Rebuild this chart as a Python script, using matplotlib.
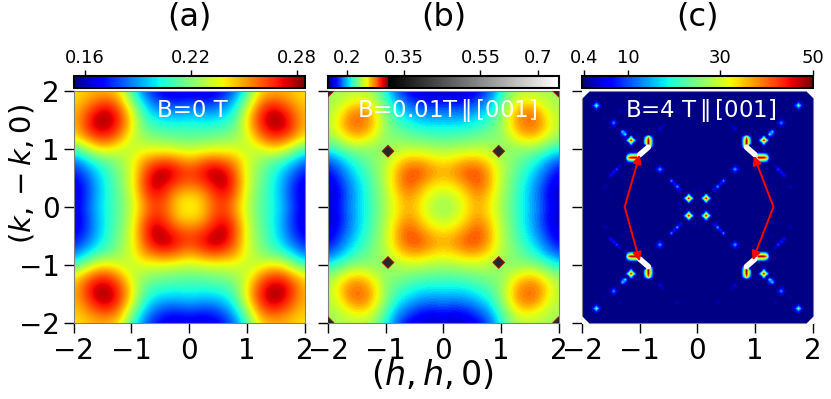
import numpy as np
import matplotlib
matplotlib.use("Agg")
import matplotlib.pyplot as plt
from matplotlib.colors import ListedColormap, Normalize

# Cuadrante (h>0, k>0) de cada mapa, filas k=0..2, columnas h=0..2, paso 0.2
mapa_a = [
    [.236, .242, .258, .264, .250, .230, .215, .206, .195, .178, .165],
    [.242, .246, .262, .270, .256, .232, .216, .205, .193, .175, .162],
    [.258, .262, .272, .279, .262, .234, .218, .206, .193, .176, .165],
    [.264, .270, .279, .276, .258, .234, .220, .208, .197, .183, .172],
    [.250, .256, .262, .258, .250, .234, .224, .216, .209, .198, .185],
    [.230, .232, .234, .234, .234, .230, .232, .240, .238, .224, .210],
    [.215, .216, .218, .220, .224, .232, .252, .264, .264, .252, .240],
    [.206, .205, .206, .208, .216, .240, .264, .278, .279, .264, .246],
    [.195, .193, .193, .197, .209, .238, .264, .279, .276, .260, .247],
    [.178, .175, .176, .183, .198, .224, .252, .264, .260, .250, .244],
    [.165, .162, .165, .172, .185, .210, .240, .246, .247, .244, .240],
]
mapa_b = [
    [.235, .240, .255, .265, .255, .238, .222, .208, .195, .175, .163],
    [.240, .247, .258, .270, .258, .240, .223, .208, .193, .172, .160],
    [.255, .258, .270, .282, .265, .242, .225, .210, .195, .176, .163],
    [.265, .270, .282, .282, .265, .243, .228, .215, .202, .185, .170],
    [.255, .258, .265, .265, .255, .240, .232, .222, .212, .198, .185],
    [.238, .240, .242, .243, .240, .235, .233, .234, .232, .222, .212],
    [.222, .223, .225, .228, .232, .233, .248, .260, .260, .245, .235],
    [.208, .208, .210, .215, .222, .234, .260, .276, .276, .258, .240],
    [.195, .193, .195, .202, .212, .232, .260, .276, .274, .252, .240],
    [.175, .172, .176, .185, .198, .222, .245, .258, .252, .242, .238],
    [.163, .160, .163, .170, .185, .212, .235, .240, .240, .238, .235],
]

# Puntos agudos del panel (b)
punto_h = [0.96, -0.96, 0.96, -0.96, 2, -2, 2, -2]
punto_k = [0.96, 0.96, -0.96, -0.96, 2, 2, -2, -2]
punto_val = [.38, .38, .38, .38, .38, .38, .38, .38]

# Esquinas blancas del panel (c)
esquina_h = [2, -2, 2, -2]
esquina_k = [2, 2, -2, -2]

# Picos del panel (c), un cuadrante, en rejilla de 0.05
pico_h = [.15, .10, .20, .15, .15,
          1.75, 1.70, 1.80, 1.75, 1.75,
          1.45, 1.40, 1.50, 1.45, 1.45,
          1.15, 1.10, 1.20, 1.15, 1.15, 1.25, 1.30, 1.25, 1.30,
          .85, .85, .85, .85, .80, .80, .80, .80, .90, .90, .90,
          1.05, 1.10, 1.15, 1.20, 1.05, 1.10, 1.15, 1.20, 1.05, 1.10, 1.15, 1.20,
          .65, .60, .70, .65, .65,
          1.40, 1.45, 1.50, 1.35, .45, .35, .40, .30,
          .60, .65, 1.60, 1.35, .35, .30, .05, .35, 1.05, 1.15, 1.60, .70, 1.30]
pico_k = [.15, .15, .15, .10, .20,
          1.75, 1.75, 1.75, 1.70, 1.80,
          1.45, 1.45, 1.45, 1.40, 1.50,
          1.15, 1.15, 1.15, 1.10, 1.20, 1.25, 1.30, 1.30, 1.25,
          1.05, 1.10, 1.15, 1.20, 1.05, 1.10, 1.15, 1.20, 1.10, 1.15, 1.20,
          .85, .85, .85, .85, .80, .80, .80, .80, .90, .90, .90, .90,
          .65, .65, .65, .60, .70,
          .65, .60, .55, .70, .45, .35, .40, .30,
          1.40, 1.35, .35, 1.65, 1.65, .05, .30, .25, 1.25, 1.05, 1.55, .70, .50]
pico_val = [49, 24, 24, 24, 24,
            24, 9, 9, 9, 9,
            15, 5, 5, 5, 5,
            49, 24, 24, 24, 24, 20, 18, 8, 8,
            49, 49, 49, 40, 18, 22, 22, 16, 24, 24, 16,
            49, 49, 49, 40, 18, 22, 22, 16, 24, 24, 24, 16,
            16, 6, 6, 6, 6,
            11, 9, 8, 4, 15, 17, 9, 7,
            3, 6, 3, 3, 3, 2, 2, 2, 3, 3, 2, 2, 1.5]

# Zonas saturadas (blancas) del panel (c), extremos de cada tramo
blanco_h0 = [.85, -.85, .85, -.85]
blanco_k0 = [1.03, 1.03, -1.03, -1.03]
blanco_h1 = [1.0, -1.0, 1.0, -1.0]
blanco_k1 = [.90, .90, -.90, -.90]

# Flechas del panel (c)
flecha_h0 = [-1.26, -1.26, 1.32, 1.32]
flecha_k0 = [0, 0, 0, 0]
flecha_h1 = [-1.0, -1.0, 0.98, 0.96]
flecha_k1 = [0.90, -0.94, 0.88, -0.92]

titulos = ["(a)", "(b)", "(c)"]
textos = ["B=0 T", "B=0.01T$\\,\\Vert\\,$[001]", "B=4 T$\\,\\Vert\\,$[001]"]
ticks_ejes = [-2, -1, 0, 1, 2]
ticks_a = [0.16, 0.22, 0.28]
ticks_b = [0.2, 0.35, 0.55, 0.7]
ticks_c = [0.4, 10, 30, 50]
etiquetas_a = ["0.16", "0.22", "0.28"]
etiquetas_b = ["0.2", "0.35", "0.55", "0.7"]
etiquetas_c = ["0.4", "10", "30", "50"]


def espejo(cuadrante):
    # Se repite el cuadrante en los otros tres
    q = np.array(cuadrante, dtype=float)
    derecha = np.vstack([q[:0:-1], q])
    return np.hstack([derecha[:, :0:-1], derecha])


def rejilla_picos():
    ejes = np.round(np.arange(-2, 2.0001, 0.05), 2)
    z = np.full((len(ejes), len(ejes)), 0.4)
    for h, k, v in zip(pico_h, pico_k, pico_val):
        for sh in (1, -1):
            for sk in (1, -1):
                i = int(round((sk * k + 2) / 0.05))
                j = int(round((sh * h + 2) / 0.05))
                z[i, j] = v
    return z


def eje_px(x0, x1, y0, y1):
    # Posición en píxeles de la figura
    return [x0 / 831, 1 - y1 / 399, (x1 - x0) / 831, (y1 - y0) / 399]


# Mapa de color del panel (b): jet y luego grises
jet = plt.get_cmap("jet")
gris = plt.get_cmap("gray")
jet_gris = ListedColormap(np.vstack([jet(np.linspace(0, 1, 67)), gris(np.linspace(0, 1, 189))]))

fig = plt.figure(figsize=(8.31, 3.99), dpi=100)

paneles = [(73.5, 304.5), (328, 558.7), (582, 812.7)]
normas = [Normalize(.1534, .2843), Normalize(.151, .755), Normalize(.04, 50)]
mapas = [jet, jet_gris, jet]
datos = [espejo(mapa_a), espejo(mapa_b), rejilla_picos()]
extents = [[-2.1, 2.1, -2.1, 2.1], [-2.1, 2.1, -2.1, 2.1], [-2.025, 2.025, -2.025, 2.025]]
interpolaciones = ["bicubic", "bicubic", "bilinear"]
cticks = [ticks_a, ticks_b, ticks_c]
cetiquetas = [etiquetas_a, etiquetas_b, etiquetas_c]

for n in range(3):
    x0, x1 = paneles[n]
    ax = fig.add_axes(eje_px(x0, x1, 91, 322.7))
    im = ax.imshow(datos[n], origin="lower", extent=extents[n], cmap=mapas[n], norm=normas[n],
                   interpolation=interpolaciones[n], interpolation_stage="data", aspect="auto")
    ax.set_xlim(-2, 2)
    ax.set_ylim(-2, 2)
    ax.set_xticks(ticks_ejes)
    ax.set_yticks(ticks_ejes)
    ax.tick_params(labelsize=20, length=7, width=1, pad=3)
    if n > 0:
        ax.set_yticklabels([])
    for s in ax.spines.values():
        s.set_color("gray")
        s.set_linewidth(0.8)
    ax.text(0.06, 1.67, textos[n], color="white", fontsize=16.5, ha="center", va="center")

    cax = fig.add_axes(eje_px(x0, x1, 75.7, 88.3))
    cb = fig.colorbar(im, cax=cax, orientation="horizontal", ticklocation="top", extend="neither")
    cb.set_ticks(cticks[n])
    cb.set_ticklabels(cetiquetas[n])
    cb.ax.tick_params(labelsize=13, length=4.5, width=1, pad=1.5)
    cb.outline.set_linewidth(1.5)
    cb.outline.set_edgecolor("black")

    fig.text((x0 + x1) / 2 / 831, 1 - 17 / 399, titulos[n], fontsize=23, ha="center", va="center")

    if n == 1:
        ax.scatter(punto_h, punto_k, marker="D", s=36, c=punto_val, cmap=jet_gris, norm=normas[1],
                   edgecolors="#c00000", linewidths=0.6, zorder=3)
    if n == 2:
        ax.scatter(esquina_h, esquina_k, marker="D", s=50, color="white", linewidths=0, zorder=3)
        for a, b, c, d in zip(blanco_h0, blanco_k0, blanco_h1, blanco_k1):
            ax.plot([a, c], [b, d], color="white", lw=4, solid_capstyle="round", zorder=2)
        for a, b, c, d in zip(flecha_h0, flecha_k0, flecha_h1, flecha_k1):
            ax.annotate("", xy=(c, d), xytext=(a, b),
                        arrowprops=dict(arrowstyle="-|>", color="red", lw=1.4, shrinkA=0, shrinkB=0,
                                        mutation_scale=13))
        ax.set_xlim(-2, 2)
        ax.set_ylim(-2, 2)

fig.text(432 / 831, 1 - 375 / 399, "$(h,h,0)$", fontsize=24, ha="center", va="center")
fig.text(22 / 831, 1 - 174 / 399, "$(k,-k,0)$", fontsize=21, rotation=90, ha="center", va="center")

fig.savefig("out.png", dpi=100)
